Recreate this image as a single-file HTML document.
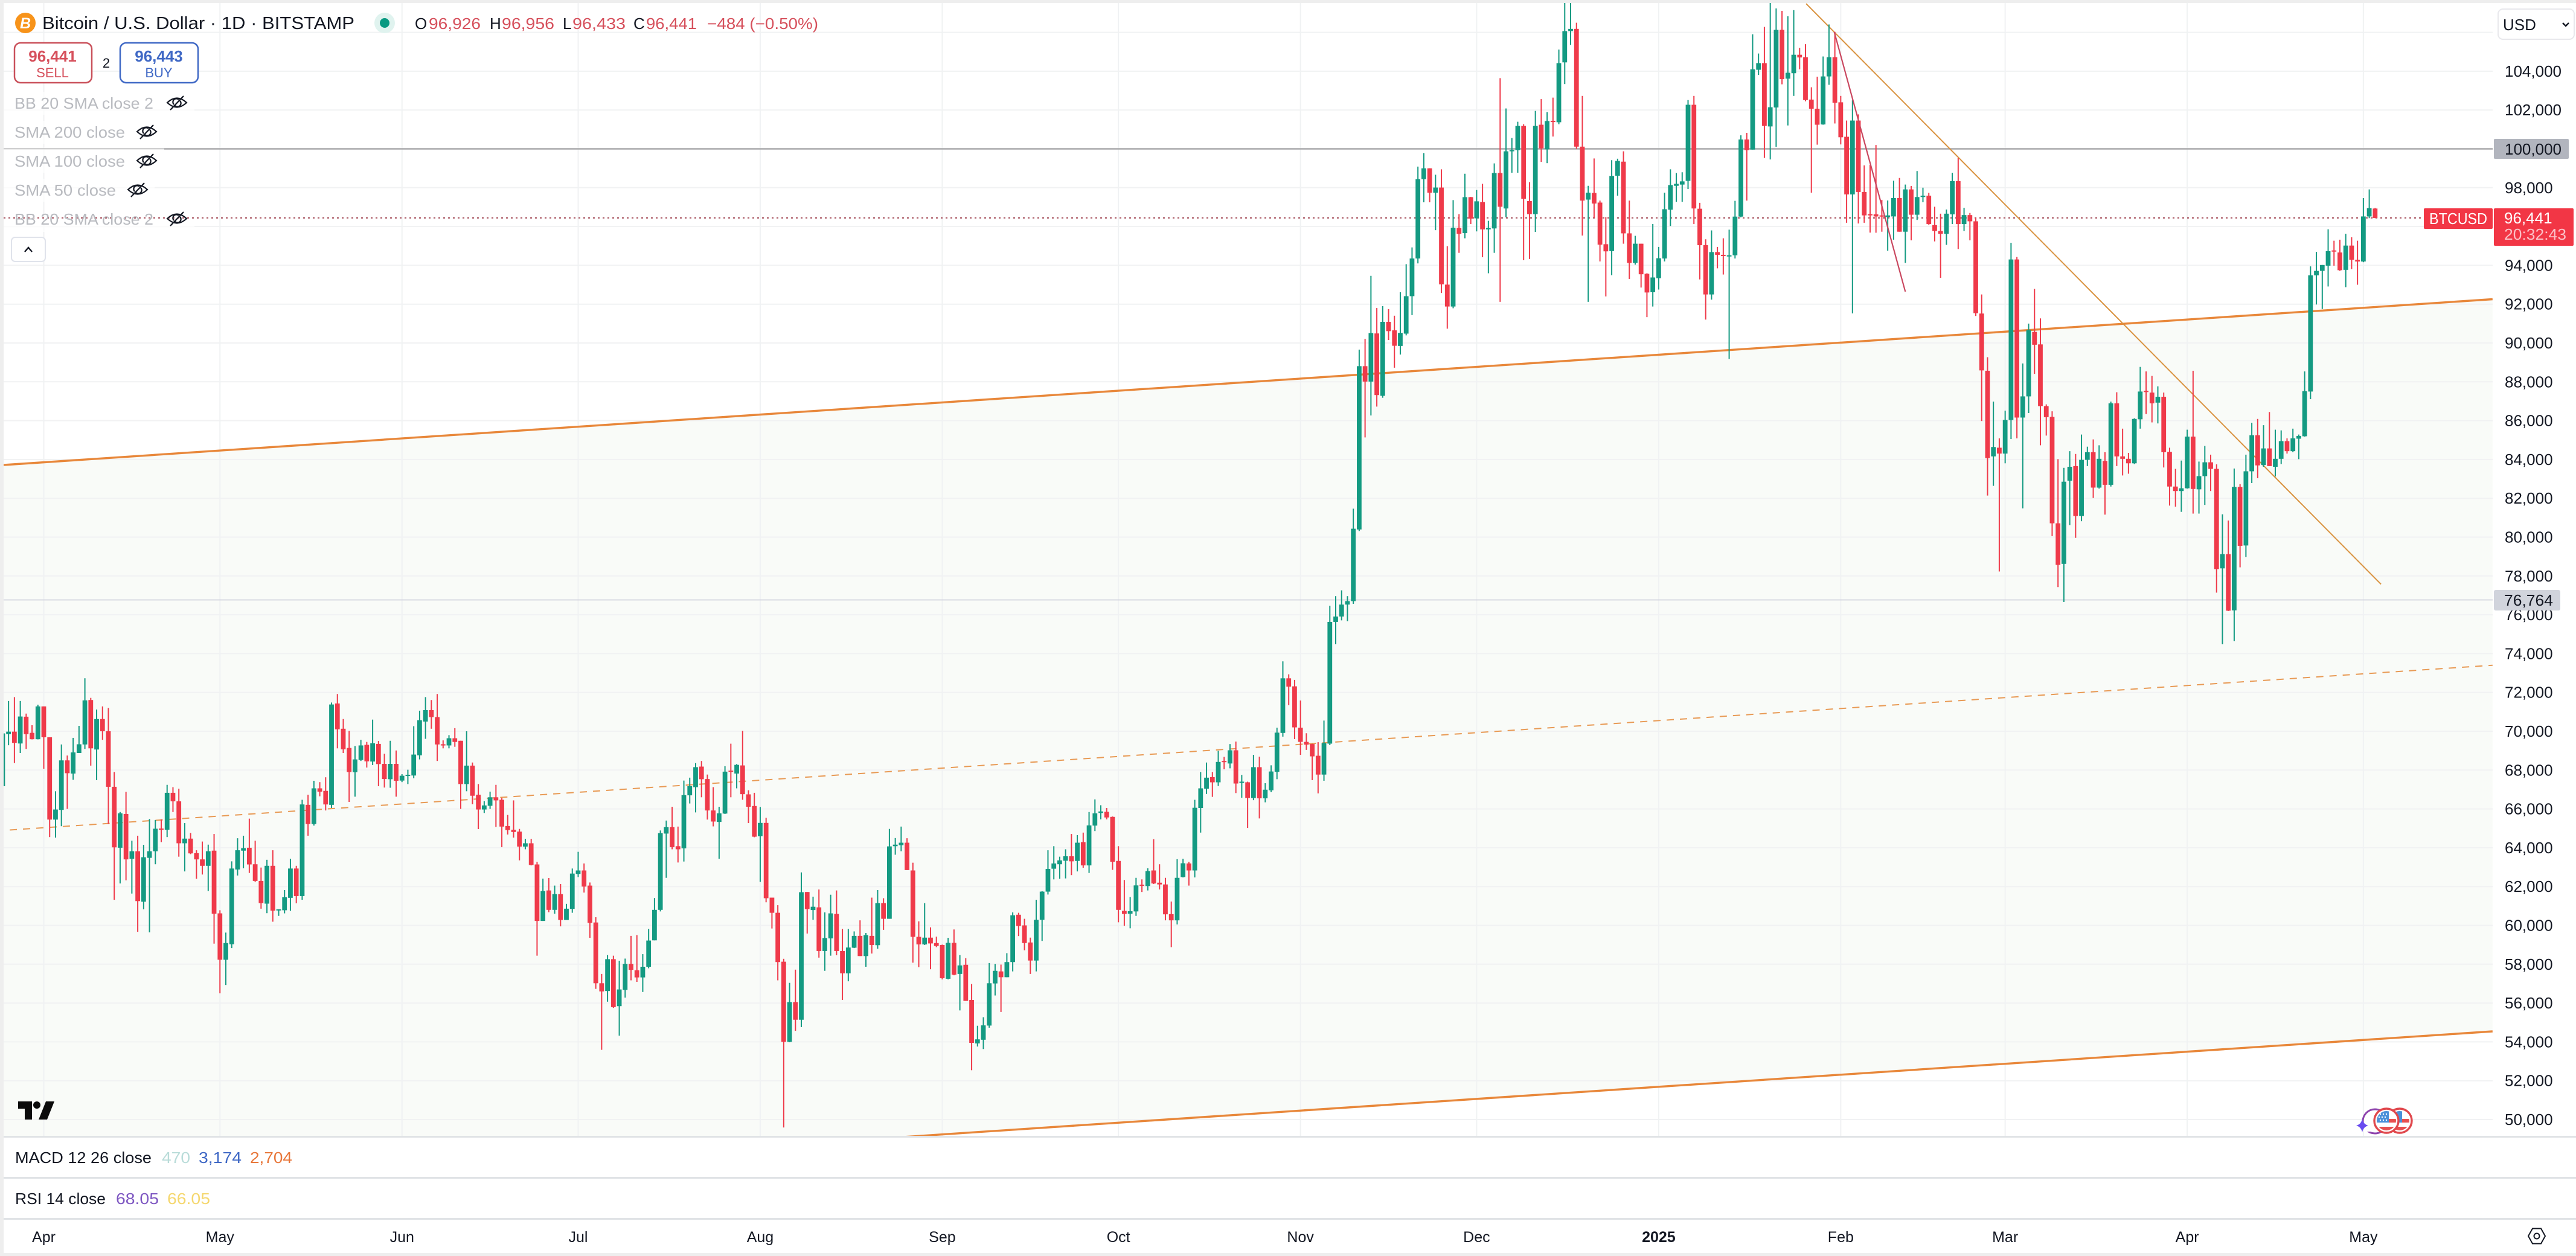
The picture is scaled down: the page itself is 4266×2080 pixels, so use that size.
<!DOCTYPE html>
<html lang="en">
<head>
<meta charset="utf-8">
<title>Bitcoin / U.S. Dollar 1D chart</title>
<style>
html,body{margin:0;padding:0;background:#fff;width:4266px;height:2080px;overflow:hidden}
svg{display:block}
text{font-family:"Liberation Sans","DejaVu Sans",sans-serif}
</style>
</head>
<body>
<svg id="chart" xmlns="http://www.w3.org/2000/svg" width="4266" height="2080" viewBox="0 0 4266 2080">
  <defs>
    <clipPath id="pane-clip"><rect x="6" y="5" width="4122" height="1877"/></clipPath>
    <clipPath id="flag-a"><circle cx="3952" cy="1856" r="16"/></clipPath>
    <clipPath id="flag-b"><circle cx="3974" cy="1856" r="16"/></clipPath>
  </defs>
  <rect width="4266" height="2080" fill="#ffffff"/>
  <g id="pane" clip-path="url(#pane-clip)">
    <polygon id="channel-fill" fill="#f9fbf8"/>
    <g id="grid"></g>
    <g id="ref-lines"></g>
    <g id="trend-lines"></g>
    <g id="candles"></g>
    <g id="top-lines"></g>
  </g>

  <!-- legend -->
  <g fill="#ffffff" opacity="0.72">
    <rect x="6" y="152" width="316" height="38"/>
    <rect x="6" y="200" width="266" height="38"/>
    <rect x="6" y="246" width="266" height="40"/>
    <rect x="6" y="296" width="250" height="38"/>
    <rect x="6" y="364" width="316" height="20"/>
  </g>
  <g>
    <circle cx="42" cy="38" r="17" fill="#f7931a"/>
    <text x="42" y="47" font-size="25" font-weight="bold" font-style="italic" fill="#ffffff" text-anchor="middle">B</text>
    <text x="70" y="48" font-size="29" fill="#131722" textLength="517" lengthAdjust="spacingAndGlyphs">Bitcoin / U.S. Dollar · 1D · BITSTAMP</text>
    <circle cx="637" cy="38" r="17" fill="#e0f3ef"/>
    <circle cx="637" cy="38" r="8" fill="#089981"/>
  </g>
  <g font-size="26">
    <text x="687" y="48" fill="#131722">O</text>
    <text x="710" y="48" fill="#d6505c" textLength="86" lengthAdjust="spacingAndGlyphs">96,926</text>
    <text x="811" y="48" fill="#131722">H</text>
    <text x="831" y="48" fill="#d6505c" textLength="87" lengthAdjust="spacingAndGlyphs">96,956</text>
    <text x="932" y="48" fill="#131722">L</text>
    <text x="948" y="48" fill="#d6505c" textLength="88" lengthAdjust="spacingAndGlyphs">96,433</text>
    <text x="1049" y="48" fill="#131722">C</text>
    <text x="1070" y="48" fill="#d6505c" textLength="84" lengthAdjust="spacingAndGlyphs">96,441</text>
    <text x="1171" y="48" fill="#d6505c" textLength="184" lengthAdjust="spacingAndGlyphs">−484 (−0.50%)</text>
  </g>
  <g>
    <rect x="24" y="71" width="128" height="66" rx="10" fill="#ffffff" stroke="#c9505a" stroke-width="2.5"/>
    <text x="87" y="102" font-size="26" font-weight="600" fill="#d6505c" text-anchor="middle">96,441</text>
    <text x="87" y="128" font-size="22" fill="#d6505c" text-anchor="middle">SELL</text>
  </g>
  <text x="176" y="112" font-size="22" fill="#131722" text-anchor="middle">2</text>
  <g>
    <rect x="199" y="71" width="129" height="66" rx="10" fill="#ffffff" stroke="#3f68c5" stroke-width="2.5"/>
    <text x="263" y="102" font-size="26" font-weight="600" fill="#3f68c5" text-anchor="middle">96,443</text>
    <text x="263" y="128" font-size="22" fill="#3f68c5" text-anchor="middle">BUY</text>
  </g>
  <g font-size="26" fill="#b9bbc0">
    <text x="24" y="180" textLength="230" lengthAdjust="spacingAndGlyphs">BB 20 SMA close 2</text>
    <text x="24" y="228" textLength="183" lengthAdjust="spacingAndGlyphs">SMA 200 close</text>
    <text x="24" y="276" textLength="183" lengthAdjust="spacingAndGlyphs">SMA 100 close</text>
    <text x="24" y="324" textLength="168" lengthAdjust="spacingAndGlyphs">SMA 50 close</text>
    <text x="24" y="372" textLength="230" lengthAdjust="spacingAndGlyphs">BB 20 SMA close 2</text>
  </g>
  <g fill="none" stroke="#131722" stroke-width="2.2">
    <g transform="translate(293,170)"><path d="M-16 0Q0-15 16 0Q0 15-16 0Z"/><path d="M-5 3A5.500 5.500 0 0 1 3-5M5-3A5.500 5.500 0 0 1-3 5"/><path d="M-11 12L11-11"/></g>
    <g transform="translate(243,218)"><path d="M-16 0Q0-15 16 0Q0 15-16 0Z"/><path d="M-5 3A5.500 5.500 0 0 1 3-5M5-3A5.500 5.500 0 0 1-3 5"/><path d="M-11 12L11-11"/></g>
    <g transform="translate(243,266)"><path d="M-16 0Q0-15 16 0Q0 15-16 0Z"/><path d="M-5 3A5.500 5.500 0 0 1 3-5M5-3A5.500 5.500 0 0 1-3 5"/><path d="M-11 12L11-11"/></g>
    <g transform="translate(228,314)"><path d="M-16 0Q0-15 16 0Q0 15-16 0Z"/><path d="M-5 3A5.500 5.500 0 0 1 3-5M5-3A5.500 5.500 0 0 1-3 5"/><path d="M-11 12L11-11"/></g>
    <g transform="translate(293,362)"><path d="M-16 0Q0-15 16 0Q0 15-16 0Z"/><path d="M-5 3A5.500 5.500 0 0 1 3-5M5-3A5.500 5.500 0 0 1-3 5"/><path d="M-11 12L11-11"/></g>
  </g>
  <g>
    <rect x="19" y="393" width="56" height="40" rx="6" fill="#ffffff" stroke="#e0e3eb" stroke-width="2"/>
    <path d="M41 417L47 410L53 417" fill="none" stroke="#131722" stroke-width="2.4"/>
  </g>

  <!-- tradingview logo -->
  <g fill="#0b0b0b">
    <path d="M30 1824H53V1854H41V1836H30Z"/>
    <circle cx="61" cy="1830" r="6"/>
    <path d="M76 1824H90L78 1854H64Z"/>
  </g>

  <!-- event icons -->
  <g>
    <circle cx="3933" cy="1857" r="20" fill="none" stroke="#8e44ad" stroke-width="3"/>
    <rect x="3915" y="1852" width="14" height="22" fill="#ffffff"/>
    <path d="M3912 1853Q3914 1862 3922 1864Q3914 1866 3912 1875Q3910 1866 3902 1864Q3910 1862 3912 1853Z" fill="#6a4cf0"/>
    <g>
      <circle cx="3974" cy="1856" r="20" fill="#ffffff" stroke="#e0474c" stroke-width="3.4"/>
      <g clip-path="url(#flag-b)">
        <rect x="3958" y="1840" width="20" height="19" fill="#4a90d9"/>
        <rect x="3978" y="1853" width="14" height="6" fill="#e8504f"/>
        <rect x="3958" y="1866" width="34" height="7" fill="#e8504f"/>
      </g>
    </g>
    <g>
      <circle cx="3952" cy="1856" r="20" fill="#ffffff" stroke="#e0474c" stroke-width="3.4"/>
      <g clip-path="url(#flag-a)">
        <rect x="3936" y="1840" width="20" height="19" fill="#4a90d9"/>
        <rect x="3956" y="1853" width="14" height="6" fill="#e8504f"/>
        <rect x="3936" y="1866" width="34" height="7" fill="#e8504f"/>
        <g fill="#ffffff">
          <circle cx="3942" cy="1845" r="1.2"/><circle cx="3947" cy="1845" r="1.2"/><circle cx="3952" cy="1845" r="1.2"/>
          <circle cx="3940" cy="1850" r="1.2"/><circle cx="3945" cy="1850" r="1.2"/><circle cx="3950" cy="1850" r="1.2"/>
          <circle cx="3942" cy="1855" r="1.2"/><circle cx="3947" cy="1855" r="1.2"/><circle cx="3952" cy="1855" r="1.2"/>
        </g>
      </g>
    </g>
  </g>

  <!-- pane separators -->
  <g fill="#e0e3e6">
    <rect x="6" y="1881" width="4260" height="3"/>
    <rect x="6" y="1949" width="4260" height="3"/>
    <rect x="6" y="2017" width="4260" height="3"/>
  </g>
  <g font-size="26">
    <text x="25" y="1926" fill="#131722" textLength="226" lengthAdjust="spacingAndGlyphs">MACD 12 26 close</text>
    <text x="268" y="1926" fill="#b9dcd9" textLength="47" lengthAdjust="spacingAndGlyphs">470</text>
    <text x="329" y="1926" fill="#3f68c5" textLength="71" lengthAdjust="spacingAndGlyphs">3,174</text>
    <text x="414" y="1926" fill="#e8773a" textLength="70" lengthAdjust="spacingAndGlyphs">2,704</text>
  </g>
  <g font-size="26">
    <text x="25" y="1994" fill="#131722" textLength="150" lengthAdjust="spacingAndGlyphs">RSI 14 close</text>
    <text x="192" y="1994" fill="#7e57c2" textLength="71" lengthAdjust="spacingAndGlyphs">68.05</text>
    <text x="277" y="1994" fill="#f5d76e" textLength="71" lengthAdjust="spacingAndGlyphs">66.05</text>
  </g>

  <!-- axes -->
  <g id="y-axis"></g>
  <g id="x-axis"></g>

  <!-- price labels -->
  <g>
    <rect x="4130" y="230" width="124" height="33" rx="2" fill="#b2b5be"/>
    <text x="4148" y="256" font-size="26" fill="#131722">100,000</text>
  </g>
  <g>
    <rect x="4130" y="977" width="110" height="34" rx="3" fill="#d1d4dc"/>
    <text x="4147" y="1003" font-size="26" fill="#131722" textLength="81" lengthAdjust="spacingAndGlyphs">76,764</text>
  </g>
  <g>
    <rect x="4014" y="345" width="114" height="34" rx="2" fill="#f23645"/>
    <text x="4023" y="371" font-size="26" fill="#ffffff" textLength="96" lengthAdjust="spacingAndGlyphs">BTCUSD</text>
  </g>
  <g>
    <rect x="4130" y="345" width="132" height="62" rx="2" fill="#f23645"/>
    <text x="4147" y="370" font-size="26" fill="#ffffff">96,441</text>
    <text x="4147" y="397" font-size="26" fill="#fbc0c6" textLength="103" lengthAdjust="spacingAndGlyphs">20:32:43</text>
  </g>
  <g>
    <rect x="4137" y="15" width="126" height="50" rx="8" fill="#ffffff" stroke="#e8e8ec" stroke-width="2"/>
    <text x="4145" y="50" font-size="26" fill="#131722">USD</text>
    <path d="M4244 38L4249 43L4254 38" fill="none" stroke="#131722" stroke-width="2.4"/>
  </g>
  <g fill="none" stroke="#131722" stroke-width="2">
    <path d="M4187 2047L4194 2034.500H4208L4215 2047L4208 2059.500H4194Z"/>
    <circle cx="4201" cy="2047" r="4.500"/>
  </g>

  <!-- outer frame -->
  <g fill="#eeeeee">
    <rect x="0" y="0" width="4266" height="5"/>
    <rect x="0" y="0" width="6" height="2080"/>
    <rect x="0" y="2075" width="4266" height="5"/>
  </g>
</svg>

<script>
/* ---------- chart data (prices) ---------- */
const firstDay = -7; /* first candle, in days relative to 1 Apr 2024 */

const opens = [
67170,69850,69980,69370,70750,69920,69590,71280,69690,65450,
65950,68500,67820,68880,69320,71610,69060,70630,70000,67140,
64000,65740,63430,63820,61220,63480,63820,64990,64930,66830,
66390,64230,64470,63720,63400,63070,63850,60620,58230,59030,
62880,63850,64000,63150,62290,61120,63070,60780,60780,61420,
62930,61510,66210,65220,67060,66930,66210,71430,70130,69140,
67890,68520,69300,68440,69350,68320,67530,68320,67460,67710,
67720,68760,70500,71090,70730,69330,69270,69640,69510,67280,
68230,66730,65970,66160,66600,66470,65120,64930,64830,64060,
64230,63140,60230,61800,60800,61610,60280,60850,62650,62830,
62050,60150,57020,56620,58260,55840,56680,58020,57690,57320,
57870,59230,60800,64730,65060,64080,63970,66700,67120,68180,
67540,65920,65330,65760,67970,67820,68240,66750,66150,64590,
65280,61430,60650,58130,54000,56050,55140,61720,60790,60930,
58680,59330,60590,58680,57530,58850,59460,58420,59460,58980,
61150,60340,64080,64130,64260,62830,59410,59020,59370,59090,
58990,57250,59100,57500,57970,56160,53920,54110,54840,57010,
57630,57330,58110,60550,60000,59120,58190,60290,61740,62920,
63150,63330,63560,63320,64290,63090,65140,65790,65850,65590,
63320,60750,60600,60720,62100,62030,62830,62200,62110,60580,
60260,62490,63190,62830,66050,67040,
67640,67370,68470,68340,69020,67356,67372,66560,68150,66545,
66960,67912,69914,72727,72314,70184,69453,69342,68738,67769,
69363,75632,75910,76525,76704,80394,88806,88012,90492,87278,91088,90651,
89848,90482,92411,94352,98439,98997,97741,98007,93007,91878,
95926,95659,97512,96421,97259,95850,95900,98756,96929,99885,
99936,101180,97309,96637,101243,99974,101446,101370,104454,106065,
106180,100114,97386,97728,97233,95088,94733,98617,99340,95647,
94124,95114,93565,92614,93337,94352,96865,98096,98160,98350,
102271,96916,95038,92500,94682,94543,94480,94517,96510,100482,
99962,104073,104416,101154,102131,106129,103616,103896,104847,104720,
102538,102068,101256,103730,104720,102398,100622,97652,101459,97779,
96637,96625,96572,96482,96518,97465,95732,97911,96607,97518,
97590,96072,95768,95625,96625,98340,96125,96589,96268,91517,
88570,84159,84606,84302,86034,94303,86159,87249,90571,89928,
86749,86195,80712,78622,82907,83659,81087,83980,84373,82551,
83927,82694,86891,84159,84034,83802,86070,87534,87445,86927,
87231,84391,82605,82373,82516,85177,82462,83141,83855,83516,
78390,79123,76229,82587,79569,83391,85248,83713,84569,83623,
84034,84945,84427,85070,85195,87499,93482,93714,93982,94768,
94661,93768,95018,94285,94196,96518,96926];

const highs = [
69890,71560,71760,71560,70910,70310,71370,71280,69690,66910,
69320,68750,69660,70280,72730,71720,71120,71280,71200,67900,
65840,66880,64360,64620,64150,65480,65430,65460,67240,67120,
67040,65270,64760,63870,64320,64160,64710,60780,59630,63300,
64490,64620,65500,64360,62980,63380,63870,60830,61820,63430,
63070,66470,66730,67450,67380,67630,71480,71920,70630,70020,
69240,69560,69450,70600,69500,68840,69510,69010,67790,68020,
70260,71060,71760,71610,71920,69530,69800,70160,69510,70000,
68390,67280,66400,66890,67240,66570,65690,66440,64970,64460,
64460,63270,62410,62440,62050,62130,61110,62930,63790,63190,
62210,60420,57500,58470,58440,58180,58290,59460,59500,58520,
59820,61410,64890,65400,66110,65090,67460,67610,68360,68470,
67770,67120,66110,68200,69360,68310,70020,66960,66830,66100,
65540,61430,61040,58280,57040,57720,62730,61720,61480,61850,
60670,61580,61800,59820,59820,59690,60260,59610,61430,61820,
61400,64970,64500,65090,64490,63230,60210,61150,59900,59420,
59010,59360,59790,58470,58310,56980,54830,55270,58060,58020,
57980,58570,60670,60650,60340,59370,61320,61760,63870,64080,
63540,63920,64710,64650,64780,65840,66490,66190,66050,65610,
64080,62340,61460,62450,62370,62940,64440,63150,62450,61230,
63410,63430,63270,66470,67900,68390,
67900,68990,68680,69340,69469,67753,67404,68786,68691,67324,
68246,70184,73601,72933,72647,71583,69898,69358,69437,70550,
76465,76961,77259,76961,81465,89659,90214,93460,91802,91900,91742,91405,
92614,94060,94923,99086,99784,99000,98667,98946,94987,97360,
96637,98718,97525,97880,98198,96294,99251,103642,102081,100558,
101396,101268,98286,101954,102563,101890,102639,105114,108300,108200,
106497,102728,98096,99505,97334,96484,99416,99492,99873,97334,
95520,95114,93591,96129,94949,97741,98946,98756,98794,102512,
102728,97220,95342,95799,94949,95393,95837,97322,100697,100824,
105900,104911,106281,108300,107233,107106,106827,107144,105202,105393,
103172,103718,104758,106408,106027,102728,101459,102500,101776,99149,
99175,100197,97375,97339,98358,98500,98161,98090,98857,98000,
97733,97018,96661,96875,98768,99518,96964,96697,96447,92500,
89267,86981,85087,86516,95161,94428,88945,90999,92785,91267,
86838,86481,84016,83569,84427,84284,85284,84659,85034,84730,
84373,86981,87463,85588,84338,86124,88767,88535,88302,87767,
87445,84606,83516,83944,85534,88570,83891,84695,84248,83748,
81176,80855,83534,82730,84248,85891,86088,85766,86445,85534,
85498,85087,85588,85284,88535,93946,94696,94018,95857,95268,
95321,95625,95446,95268,97465,97911,96956];

const lows = [
67170,69280,68360,68880,69090,69580,69580,68070,64550,64520,
65110,66000,67500,68880,69090,68230,67480,69560,65220,61320,
62160,62320,61640,59670,60830,59640,63150,64290,64550,65840,
63540,62780,63670,62400,62620,61770,59060,56500,56930,58830,
62570,62940,62700,62240,60860,60630,60190,60490,60620,60750,
61140,61320,64620,65140,66650,65920,66050,69120,68880,66360,
66630,68470,68130,68260,67170,67100,67090,66630,67380,67280,
67580,68550,69610,70130,68470,69120,69120,69200,66000,66910,
66240,64960,65790,66000,65070,64030,64680,64520,63350,63920,
63090,58440,60230,60680,60600,59950,60280,60650,62490,61690,
59360,56730,53590,56070,55750,54320,56280,57170,57090,56570,
57790,59230,60720,62450,63920,63240,63290,66280,65820,66600,
65450,65100,63430,65740,66600,67060,66470,65270,64540,62240,
61190,59840,57170,49590,53980,54570,54760,59580,60290,58340,
57660,58440,58460,56160,57120,58830,58420,57870,58550,58800,
59770,60340,63640,63820,62850,58080,57850,58990,57740,58880,
57220,57220,57430,55620,56110,52540,53760,53630,54730,56390,
55540,57330,57630,59450,58720,57500,57630,59200,61590,62370,
62400,62420,62590,62780,62970,62700,64860,65460,65460,62860,
60160,59980,59850,60490,61720,61800,62130,61850,60260,58880,
60050,62470,62050,62470,64780,66770,
66620,67180,68040,68090,66816,66577,65020,66450,65510,66340,
66863,67531,69723,71344,69596,68786,69040,67483,66800,67451,
69284,74481,75712,75672,76564,80314,85135,86266,86723,87179,90155,88727,
89403,90393,91434,94099,97246,97246,95812,92576,90736,91789,
94644,95393,96129,95748,94416,93591,94644,92120,96471,98769,
98769,94264,94327,95723,99327,99263,100634,101268,103337,105355,
100000,95533,92120,96446,94200,92398,93490,97589,95114,93299,
94035,92855,91332,91878,92753,94200,96028,97271,97271,97931,
96129,93274,91205,92233,93845,93527,89175,94352,96471,97334,
99962,103806,99530,99454,100101,103324,101205,102728,104098,102449,
97741,100215,101243,103299,101307,100228,96193,91523,96155,96193,
95685,95679,95732,94750,95321,95732,94125,95286,96339,97250,
96089,95232,93357,95054,96125,94839,95768,95286,91392,85981,
82141,82641,78229,83802,85052,85087,81480,86391,88409,84730,
85230,80051,77426,76658,80622,79962,80819,83659,82016,82498,
81159,82605,83659,83176,83266,83766,85588,86338,85909,85856,
83587,81623,81569,81301,82498,81212,81212,81658,82373,77140,
74480,76193,74639,78444,78979,82784,83034,83623,83659,83123,
83766,84302,84373,84016,85177,87106,91982,91749,92910,93982,
93714,92875,93803,93000,94161,96429,96433];

const closes = [
69890,69980,69400,70760,69850,69590,71280,69690,65450,65970,
68500,67840,68910,69330,71590,69120,70630,70000,67140,64020,
65770,63400,63820,61250,63510,63820,64980,64940,66830,66390,
64230,64470,63710,63400,63070,63820,60600,58230,59090,62930,
63870,63980,63140,62290,61150,63070,60760,60830,61450,62930,
61510,66230,65220,67060,66890,66230,71380,70100,69070,67900,
68550,69270,68450,69380,68310,67540,68320,67450,67710,67760,
68800,70570,71090,70730,69320,69300,69640,69450,67280,68230,
66680,65970,66180,66600,66440,65090,64910,64810,64060,64230,
63110,60230,61770,60800,61610,60280,60860,62670,62830,62000,
60130,57020,56600,58260,55790,56700,58020,57710,57320,57870,
59220,60800,64750,65060,64030,63920,66710,67170,68150,67530,
65920,65350,65770,67920,67930,68270,66760,66110,64570,65280,
61400,60650,58110,54000,56050,55140,61710,60840,60960,58680,
59350,60620,58680,57530,58860,59460,58420,59500,58990,61150,
60340,64070,64160,64260,62850,59410,59020,59370,59070,58940,
57280,59100,57460,57940,56110,53950,54130,54850,57020,57660,
57330,58110,60520,59970,59090,58190,60290,61740,62910,63190,
63350,63560,63300,64260,63090,65150,65770,65870,65560,63280,
60800,60590,60730,62060,62060,62800,62160,62110,60570,60260,
62450,63200,62830,66060,67060,67610,
67370,68420,68440,69020,67308,67404,66561,68150,66545,66990,
67928,69930,72727,72298,70200,69453,69310,68707,67769,69390,
75632,75910,76525,76704,80433,88806,88012,90512,87318,91088,90611,89857,
90520,92411,94352,98439,98997,97741,98007,93020,91878,95939,
95622,97512,96408,97297,95850,95926,98756,97017,99873,99936,
101180,97423,96637,101180,100025,101434,101408,104416,106065,106180,
100114,97334,97741,97182,95063,94720,98604,99378,95647,94124,
95114,93540,92601,93375,94365,96890,98134,98198,98325,102271,
96929,95038,92500,94682,94543,94480,94517,96510,100482,99936,
104098,104416,101180,102144,106129,103591,103921,104847,104707,102512,
102068,101243,103730,104720,102373,100596,97652,101459,97779,96573,
96573,96518,96518,96572,97465,95732,97911,96607,97518,97590,
96125,95768,95625,96661,98340,96125,96589,96268,91535,88588,
84070,84641,84302,86034,94303,86159,87249,90660,89910,86749,
86177,80712,78569,82855,83623,81087,83980,84373,82551,84034,
82694,86891,84159,84034,83802,86088,87499,87481,86891,87231,
84373,82605,82373,82516,85177,82480,83141,83855,83516,78354,
79123,76211,82587,79551,83391,85248,83695,84569,83659,84034,
84945,84427,85087,85213,87517,93482,93714,94018,94732,94714,
93750,95018,94285,94196,96518,96946,96441];

const priceTicks = [104000,102000,100000,98000,96000,94000,92000,90000,88000,86000,84000,82000,80000,78000,76000,74000,72000,70000,68000,66000,64000,62000,60000,58000,56000,54000,52000,50000];
const gridPrices = [106000,104000,102000,100000,98000,96000,94000,92000,90000,88000,86000,84000,82000,80000,78000,76000,74000,72000,70000,68000,66000,64000,62000,60000,58000,56000,54000,52000,50000];
const monthDays = [0,30,61,91,122,153,183,214,244,275,306,334,365,395];
const monthLabels = ['Apr','May','Jun','Jul','Aug','Sep','Oct','Nov','Dec','2025','Feb','Mar','Apr','May'];

/* drawn lines: [day, price] end points */
const channelUpper = [[-6.84,83717],[417,92255]];
const channelLower = [[-6.84,46019],[417,54541]];
const channelMiddle = [[-5.8,64914],[417,73400]];
const downTrend = [[300.1,107480],[398,77574]];
const shortTrend = [[304.9,106019],[317,92644]];
const levelPrices = [100000,76764];
const lastPrice = 96441;

/* ---------- axis functions ---------- */
function xOf(day){ return 72.5 + 9.725 * day; }
function yOf(price){ return 1854 - (price - 50000) * 0.03215; }

const SVGNS = 'http://www.w3.org/2000/svg';
function make(tag, attrs, parent){
  const el = document.createElementNS(SVGNS, tag);
  for (const k in attrs) el.setAttribute(k, attrs[k]);
  parent.appendChild(el);
  return el;
}

/* channel fill */
const fillEl = document.getElementById('channel-fill');
fillEl.setAttribute('points', [
  [xOf(channelUpper[0][0]), yOf(channelUpper[0][1])],
  [xOf(channelUpper[1][0]), yOf(channelUpper[1][1])],
  [xOf(channelLower[1][0]), yOf(channelLower[1][1])],
  [xOf(channelLower[0][0]), yOf(channelLower[0][1])]
].map(p => p.join(',')).join(' '));

/* grid */
const gridG = document.getElementById('grid');
gridPrices.forEach(p => {
  const el = make('line', {x1:6, x2:4128, y1:yOf(p), y2:yOf(p), stroke:'#f1f2f3', 'stroke-width':2}, gridG);
  
  
});
monthDays.forEach(d => {
  const el = make('line', {x1:xOf(d), x2:xOf(d), y1:5, y2:1882, stroke:'#f0f2f3', 'stroke-width':2}, gridG);
  
  
});

/* reference levels */
const refG = document.getElementById('ref-lines');
levelPrices.forEach((p, i) => {
  const el = make('line', {x1:6, x2:4128, y1:yOf(p), y2:yOf(p), stroke:i === 0 ? '#a9a9ab' : '#d2d3de', 'stroke-width':i === 0 ? 2.4 : 1.8}, refG);
  
  
});
const lastLine = make('line', {x1:6, x2:4010, y1:yOf(lastPrice), y2:yOf(lastPrice), stroke:'#a8525e', 'stroke-width':2, 'stroke-dasharray':'3 5'}, refG);



/* trend lines */
function drawLine(points, parent, style){
  const el = make('line', Object.assign({
    x1:xOf(points[0][0]), y1:yOf(points[0][1]),
    x2:xOf(points[1][0]), y2:yOf(points[1][1])
  }, style), parent);
  return el;
}
const trendG = document.getElementById('trend-lines');
const upperEl = drawLine(channelUpper, trendG, {stroke:'#e8873a', 'stroke-width':3.4});


const lowerEl = drawLine(channelLower, trendG, {stroke:'#e8873a', 'stroke-width':3.4});


const middleEl = drawLine(channelMiddle, trendG, {stroke:'#e89a55', 'stroke-width':2, 'stroke-dasharray':'12 10'});


const downEl = drawLine(downTrend, trendG, {stroke:'#d9923f', 'stroke-width':2});



/* candles */
const candleG = document.getElementById('candles');
const UP = '#149a82', DOWN = '#ef3a4a';
opens.forEach((o, i) => {
  const c = closes[i], h = highs[i], l = lows[i];
  const x = xOf(firstDay + i);
  const color = c >= o ? UP : DOWN;
  const wick = make('rect', {x:x - 1, width:2, y:yOf(h), height:Math.max(1, yOf(l) - yOf(h)), fill:color}, candleG);
  
  
  const top = yOf(Math.max(o, c));
  const bottom = yOf(Math.min(o, c));
  const body = make('rect', {x:x - 3.9, width:7.8, y:top, height:Math.max(2, bottom - top), fill:color}, candleG);
  
  
});

/* short red trend line, above candles */
const shortEl = drawLine(shortTrend, document.getElementById('top-lines'), {stroke:'#c9475f', 'stroke-width':2.2});



/* axis labels */
const yAxis = document.getElementById('y-axis');
priceTicks.forEach(p => {
  const el = make('text', {x:4148, y:yOf(p) + 9, 'font-size':26, fill:'#131722'}, yAxis);
  el.textContent = p.toLocaleString('en-US');
  
  
});
const xAxis = document.getElementById('x-axis');
monthDays.forEach((d, i) => {
  const el = make('text', {x:xOf(d), y:2057, 'font-size':25, fill:'#131722', 'text-anchor':'middle', 'font-weight':monthLabels[i] === '2025' ? 'bold' : 'normal'}, xAxis);
  el.textContent = monthLabels[i];
  
  
});
</script>
</body>
</html>
